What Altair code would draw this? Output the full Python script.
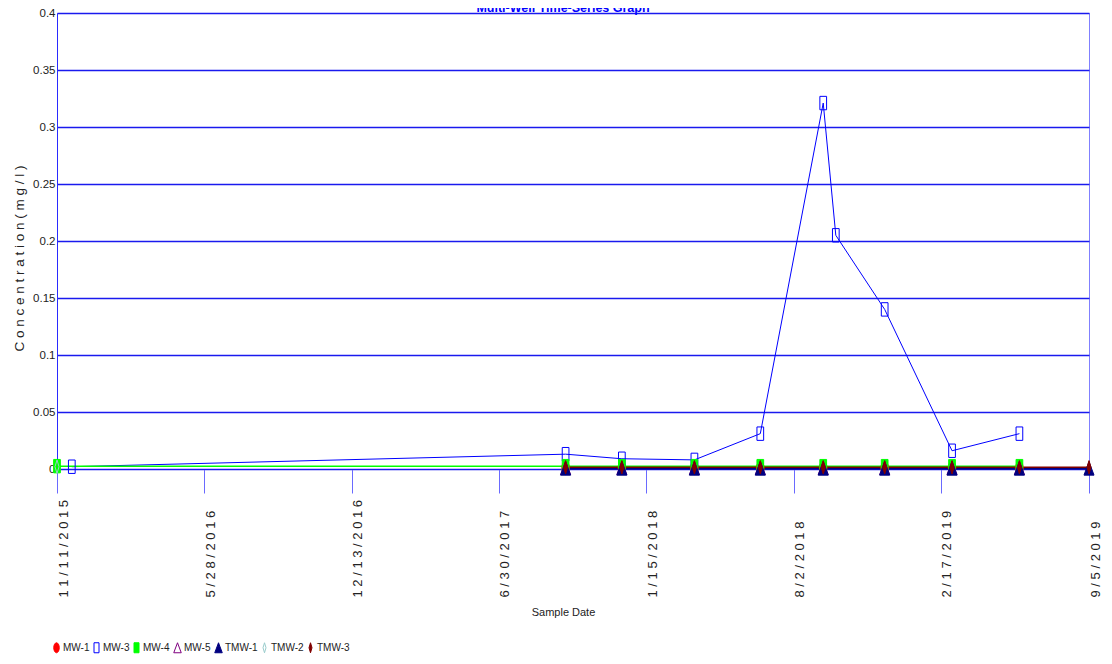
import altair as alt
import pandas as pd

FONT = "Liberation Sans, Arial, sans-serif"

# ---- data ----
TITLE = ["Multi-Well Time-Series Graph"]
WELLS = ["MW-1", "MW-3", "MW-4", "MW-5", "TMW-1", "TMW-2", "TMW-3"]

MW1_DATES = ["2017-09-28", "2017-12-13", "2018-03-21", "2018-06-18", "2018-09-11", "2018-12-03", "2019-03-04", "2019-06-03"]
MW1_VALUES = [0.001, 0.001, 0.001, 0.001, 0.001, 0.001, 0.001, 0.001]

MW3_DATES = ["2015-12-01", "2017-09-28", "2017-12-13", "2018-03-21", "2018-06-18", "2018-09-11", "2018-09-28", "2018-12-03", "2019-03-04", "2019-06-03"]
MW3_VALUES = [0.002, 0.013, 0.009, 0.008, 0.031, 0.321, 0.205, 0.140, 0.016, 0.031]

MW4_DATES = ["2015-11-11", "2017-09-28", "2017-12-13", "2018-03-21", "2018-06-18", "2018-09-11", "2018-12-03", "2019-03-04", "2019-06-03"]
MW4_VALUES = [0.0025, 0.0025, 0.0025, 0.0025, 0.0025, 0.0025, 0.0025, 0.0025, 0.0025]

MW5_DATES = ["2017-09-28", "2017-12-13", "2018-03-21", "2018-06-18", "2018-09-11", "2018-12-03", "2019-03-04", "2019-06-03"]
MW5_VALUES = [0.001, 0.001, 0.001, 0.001, 0.001, 0.001, 0.001, 0.001]

TMW1_DATES = ["2017-09-28", "2017-12-13", "2018-03-21", "2018-06-18", "2018-09-11", "2018-12-03", "2019-03-04", "2019-06-03", "2019-09-05"]
TMW1_VALUES = [0.0005, 0.0005, 0.0005, 0.0005, 0.0005, 0.0005, 0.0005, 0.0005, 0.0005]

TMW2_DATES = ["2015-11-11"]
TMW2_VALUES = [0.002]

TMW3_DATES = ["2017-09-28", "2017-12-13", "2018-03-21", "2018-06-18", "2018-09-11", "2018-12-03", "2019-03-04", "2019-06-03", "2019-09-05"]
TMW3_VALUES = [0.0015, 0.0015, 0.0015, 0.0015, 0.0015, 0.0015, 0.0015, 0.0015, 0.0015]

X_TICKS = ["11/11/2015", "5/28/2016", "12/13/2016", "6/30/2017", "1/15/2018", "8/2/2018", "2/17/2019", "9/5/2019"]
Y_TICKS = [0, 0.05, 0.1, 0.15, 0.2, 0.25, 0.3, 0.35, 0.4]

# ---- styles ----
FILLS = ["#ff0000", "transparent", "#00ff00", "transparent", "#000080", "transparent", "#800000"]
STROKES = ["#ff0000", "#0000ff", "#00ff00", "#800080", "#000080", "#99cccc", "#800000"]
LINE_WIDTHS = [1.5, 1, 1.5, 1.5, 2, 1, 1.5]
ELLIPSE = "M0,-1A0.55,1,0,1,1,0,1A0.55,1,0,1,1,0,-1Z"
RECT = "M-0.5,-1H0.5V1H-0.5Z"
TRI = "M0,-1L0.75,1H-0.75Z"
DIAMOND = "M0,-1L0.3,0L0,1L-0.3,0Z"
SHAPES = [ELLIPSE, RECT, RECT, TRI, TRI, DIAMOND, DIAMOND]

series = [
    ("MW-1", MW1_DATES, MW1_VALUES),
    ("MW-3", MW3_DATES, MW3_VALUES),
    ("MW-4", MW4_DATES, MW4_VALUES),
    ("MW-5", MW5_DATES, MW5_VALUES),
    ("TMW-1", TMW1_DATES, TMW1_VALUES),
    ("TMW-2", TMW2_DATES, TMW2_VALUES),
    ("TMW-3", TMW3_DATES, TMW3_VALUES),
]
rows = []
for well, dates, vals in series:
    for d, v in zip(dates, vals):
        rows.append({"well": well, "date": d, "value": v})
df = pd.DataFrame(rows)

tick_dates = [pd.to_datetime(t, format="%m/%d/%Y") for t in X_TICKS]
tick_values = [alt.DateTime(year=t.year, month=t.month, date=t.day, utc=True) for t in tick_dates]

x_enc = alt.X(
    "date:T",
    scale=alt.Scale(type="utc", domain=[tick_values[0], tick_values[-1]], nice=False),
    axis=alt.Axis(
        values=tick_values,
        title="Sample Date",
        grid=False,
        domain=True,
        domainColor="#1a1aee",
        ticks=True,
        tickSize=24,
        tickColor="#6a6aff",
        tickWidth=1,
        labelAngle=270,
        labelAlign="left",
        labelBaseline="top",
        labelPadding=104,
        labelFontSize=13,
        labelOverlap=False,
        labelFlush=False,
        labelExpr="join(split(utcFormat(datum.value, '%-m/%-d/%Y'), ''), ' ')",
        titleX=506,
        titleY=137,
        titleBaseline="top",
        titleAlign="center",
        titleFontSize=11,
    ),
)
y_enc = alt.Y(
    "value:Q",
    scale=alt.Scale(domain=[0, 0.4], nice=False),
    axis=alt.Axis(
        values=Y_TICKS,
        format="~g",
        title="C o n c e n t r a t i o n  ( m g / l )",
        grid=True,
        gridColor="#1a1aee",
        gridWidth=1.3,
        domainColor="#2a2aff",
        ticks=False,
        labelPadding=2,
        labelFontSize=11.5,
        titleAngle=270,
        titleX=-45,
        titleY=245,
        titleAlign="center",
        titleBaseline="top",
        titleFontSize=13.5,
    ),
)

# one line layer per well (fixed colour/width, no legend)
line_layers = []
for well, color, width in zip(WELLS, STROKES, LINE_WIDTHS):
    line_layers.append(
        alt.Chart(df)
        .transform_filter(alt.datum.well == well)
        .mark_line(color=color, strokeWidth=width)
        .encode(x=x_enc, y=y_enc)
    )

points = alt.Chart(df).mark_point(size=180, strokeWidth=1, opacity=1).encode(
    x=x_enc,
    y=y_enc,
    shape=alt.Shape("well:N", scale=alt.Scale(domain=WELLS, range=SHAPES), legend=alt.Legend(title=None)),
    fill=alt.Fill("well:N", scale=alt.Scale(domain=WELLS, range=FILLS), legend=alt.Legend(title=None)),
    stroke=alt.Stroke("well:N", scale=alt.Scale(domain=WELLS, range=STROKES), legend=alt.Legend(title=None)),
)

# chart title, partly hidden at the top edge as in the reference
title_text = alt.Chart(pd.DataFrame({"t": TITLE})).mark_text(
    font=FONT, fontSize=12.5, fontWeight="bold", color="#0000ff",
    align="center", baseline="alphabetic",
).encode(x=alt.value(506), y=alt.value(-1), text="t:N")

chart = alt.layer(*line_layers, points, title_text).properties(
    width=1032,
    height=456,
    padding={"left": 49, "top": 5, "right": 15, "bottom": 190},
    autosize=alt.AutoSizeParams(type="none"),
).configure_view(
    stroke="#8080ff", strokeWidth=1
).configure_axis(
    labelFont=FONT, titleFont=FONT, labelColor="#222222", titleColor="#222222", titleFontWeight="normal"
).configure_legend(
    orient="none",
    legendX=-6,
    legendY=629,
    direction="horizontal",
    columns=7,
    padding=0,
    symbolSize=100,
    symbolStrokeWidth=1,
    labelFont=FONT,
    labelFontSize=10,
    labelColor="#222222",
    labelOffset=1,
    columnPadding=1,
)

chart.save("out.html", embed_options={"renderer": "svg", "actions": False})
